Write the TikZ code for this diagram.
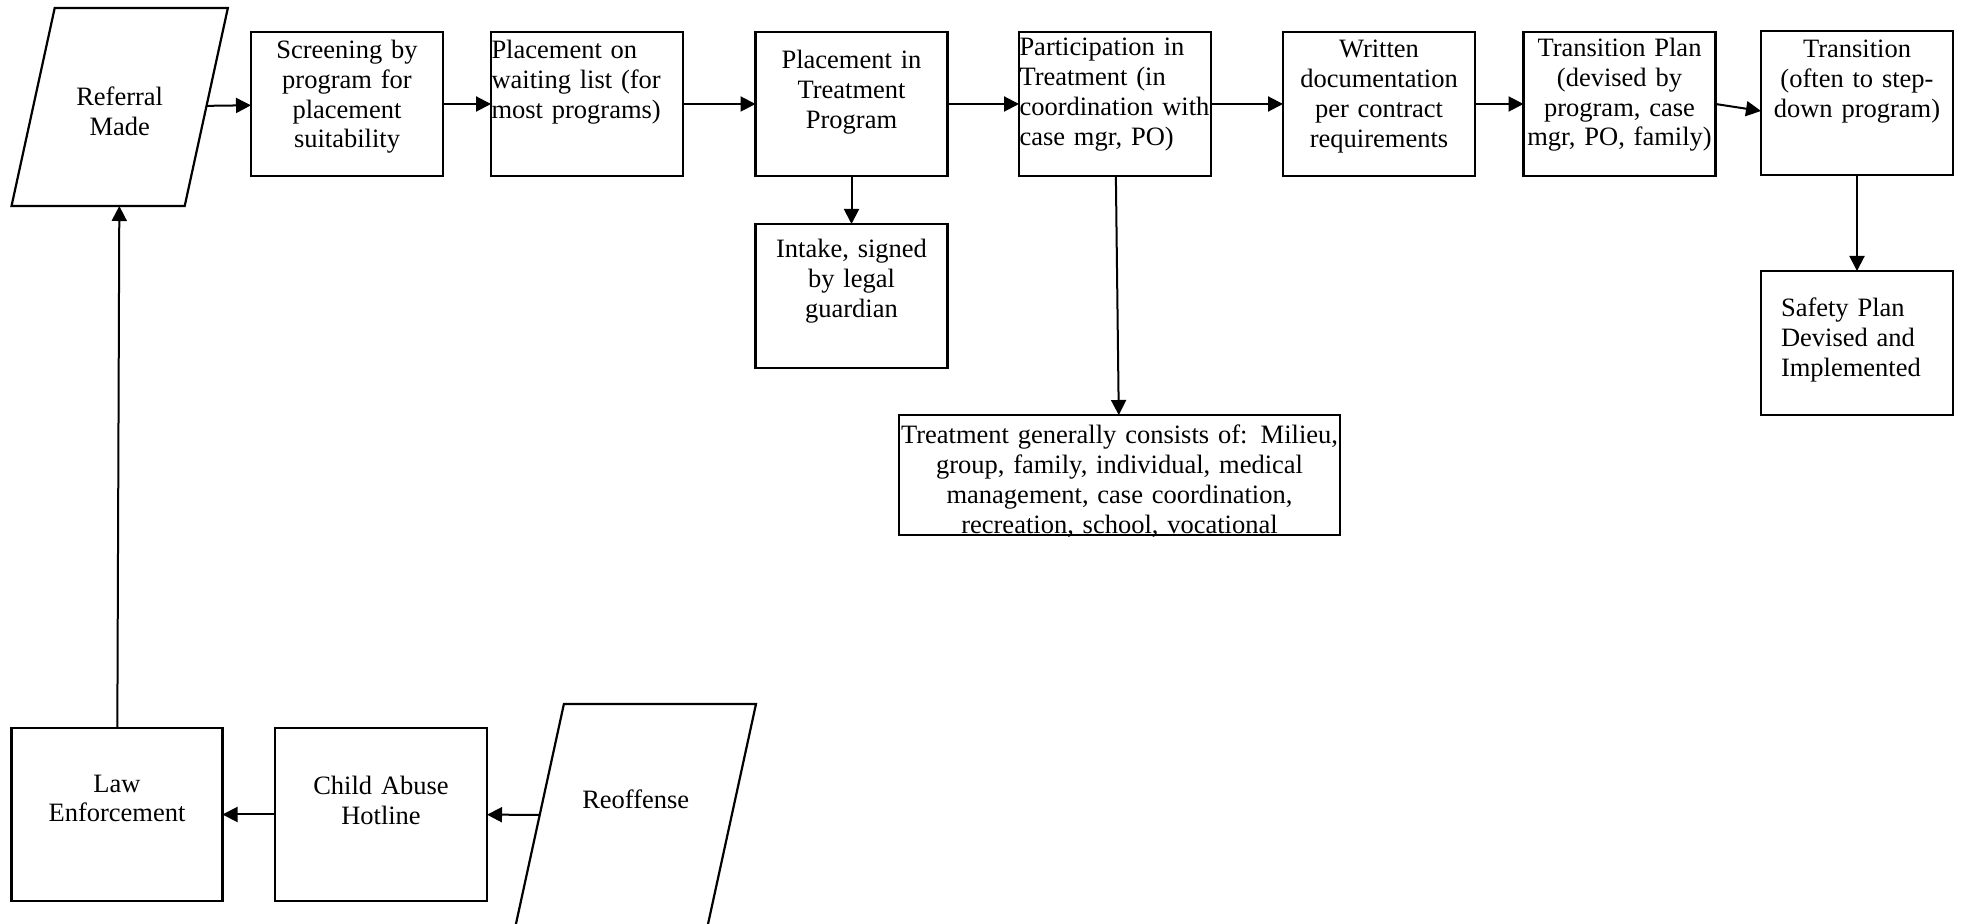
\documentclass[tikz,border=0pt]{standalone}
\usepackage{fontspec}
\setmainfont{Liberation Serif}
\usetikzlibrary{arrows.meta,shapes.geometric}
\begin{document}
\begin{tikzpicture}[x=0.5pt,y=-0.5pt,
  every node/.style={font=\fontsize{13.25pt}{14.9pt}\selectfont},
  box/.style={draw, line width=1.1pt, inner xsep=0.25pt, inner ysep=0pt, outer sep=0pt, text width=95.5pt, align=center},
  lbox/.style={box, align=left},
  para/.style={draw, line width=1.1pt, trapezium, trapezium left angle=77.7, trapezium right angle=102.3, inner sep=0pt, outer sep=0pt, align=center},
  arr/.style={line width=1pt, -{Triangle[length=7.5pt,width=7.5pt]}}]
\useasboundingbox (0,0) rectangle (1961,924);
\clip (0,0) rectangle (1961,924);

% parallelograms
\node[para, text width=65pt, text height=49pt, text depth=50pt] (ref) at (119.7,107) {Referral\\Made};
\node[para, text width=71.85pt, text height=52pt, text depth=59pt] (reo) at (635.75,815) {Reoffense};

% top row
\node[box, text height=13.25pt, text depth=58.75pt] (scr) at (347,104) {Screening by\\program for\\placement\\suitability};
\node[lbox, text height=13.25pt, text depth=58.75pt] (wl) at (587,104) {Placement on\\waiting list (for\\most programs)};
\node[box, text height=18.5pt, text depth=53.5pt] (pit) at (851.5,104) {Placement in\\Treatment\\Program};
\node[lbox, text height=12pt, text depth=60pt] (par) at (1115,104) {Participation in\\Treatment (in\\coordination with\\case mgr, PO)};
\node[box, text height=13pt, text depth=59pt] (wri) at (1379,104) {Written\\documentation\\per contract\\requirements};
\node[box, text height=12.3pt, text depth=59.7pt] (tpl) at (1619.5,104) {Transition Plan\\(devised by\\program, case\\mgr, PO, family)};
\node[box, text height=13.3pt, text depth=58.7pt] (tra) at (1857,103) {Transition\\(often to step-\\down program)};

% second level
\node[box, text height=17pt, text depth=55pt] (int) at (851.5,296) {Intake, signed\\by legal\\guardian};
\node[lbox, inner xsep=10pt, text width=76pt, text height=23pt, text depth=49pt] (saf) at (1857,343) {Safety Plan\\Devised and\\Implemented};
\node[box, text width=220pt, text height=14.5pt, text depth=45.5pt] (trt) at (1119.5,475) {Treatment generally consists of: Milieu,\\group, family, individual, medical\\management, case coordination,\\recreation, school, vocational};

% bottom row
\node[box, text width=105pt, text height=32pt, text depth=54.5pt] (law) at (117,814.5) {Law\\Enforcement};
\node[box, text width=105.5pt, text height=33.5pt, text depth=53pt] (hot) at (381,814.5) {Child Abuse\\Hotline};

% connectors
\draw[arr] (ref) -- (scr);
\draw[arr] (scr) -- (wl);
\draw[arr] (wl) -- (pit);
\draw[arr] (pit) -- (par);
\draw[arr] (par) -- (wri);
\draw[arr] (wri) -- (tpl);
\draw[arr] (tpl.east) -- ([yshift=-4pt]tra.west);
\draw[arr] (tra) -- (saf);
\draw[arr] (pit) -- (int);
\draw[arr] (par) -- (trt);
\draw[arr] (reo) -- (hot);
\draw[arr] (hot) -- (law);
\draw[arr] (law) -- (ref);
\end{tikzpicture}
\end{document}
